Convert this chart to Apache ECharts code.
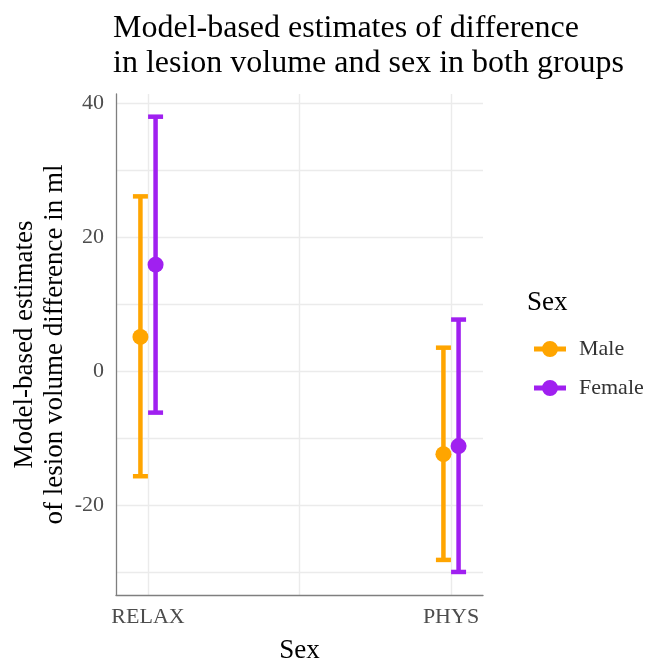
<!DOCTYPE html>
<html>
<head>
<meta charset="utf-8">
<script src="https://cdn.jsdelivr.net/npm/echarts@6/dist/echarts.min.js"></script>
<style>html,body{margin:0;padding:0;background:#fff}#c{width:656px;height:659px}</style>
</head>
<body>
<div id="c"></div>
<script>
const groups = ['RELAX', 'PHYS'];
const sexes = ['Male', 'Female'];
const estMale = [5.1, -12.4];
const lowMale = [-15.7, -28.2];
const highMale = [26.1, 3.5];
const estFemale = [15.9, -11.2];
const lowFemale = [-6.2, -30.0];
const highFemale = [38.0, 7.7];
const yTickLabels = [-20, 0, 20, 40];
const yGrid = [-30, -20, -10, 0, 10, 20, 30, 40];

const colors = { Male: '#FFA500', Female: '#A020F0' };
const dodge = { Male: -0.025, Female: 0.025 };
const FONT = 'Liberation Serif';

const est = { Male: estMale, Female: estFemale };
const low = { Male: lowMale, Female: lowFemale };
const high = { Male: highMale, Female: highFemale };

function errRender(color) {
  return function (params, api) {
    const x = api.value(0);
    const lo = api.coord([x, api.value(1)]);
    const hi = api.coord([x, api.value(2)]);
    const hw = 7.5;
    const st = { stroke: color, lineWidth: 4.5 };
    return {
      type: 'group',
      children: [
        { type: 'line', shape: { x1: lo[0], y1: lo[1], x2: hi[0], y2: hi[1] }, style: st },
        { type: 'line', shape: { x1: lo[0] - hw, y1: lo[1], x2: lo[0] + hw, y2: lo[1] }, style: st },
        { type: 'line', shape: { x1: hi[0] - hw, y1: hi[1], x2: hi[0] + hw, y2: hi[1] }, style: st }
      ]
    };
  };
}

const series = [];
sexes.forEach(s => {
  series.push({
    name: s,
    type: 'custom',
    renderItem: errRender(colors[s]),
    data: groups.map((g, i) => [i + 1 + dodge[s], low[s][i], high[s][i]]),
    z: 2
  });
});
sexes.forEach(s => {
  series.push({
    name: s,
    type: 'scatter',
    symbol: 'circle',
    symbolSize: 16,
    itemStyle: { color: colors[s], opacity: 1 },
    data: groups.map((g, i) => [i + 1 + dodge[s], est[s][i]]),
    z: 3
  });
});

const iconPath = 'path://M0,5.5L32,5.5L32,10.5L0,10.5Z M16,0A8,8,0,1,1,16,16A8,8,0,1,1,16,0Z';

const chart = echarts.init(document.getElementById('c'), null, { renderer: 'canvas' });
chart.setOption({
  backgroundColor: '#ffffff',
  animation: false,
  textStyle: { fontFamily: FONT },
  title: [
    {
      text: 'Model-based estimates of difference\nin lesion volume and sex in both groups',
      left: 108, top: 6,
      textStyle: { fontFamily: FONT, fontSize: 32, fontWeight: 'normal', color: '#000', lineHeight: 35 }
    },
    {
      text: 'Sex',
      left: 522, top: 284,
      textStyle: { fontFamily: FONT, fontSize: 27, fontWeight: 'normal', color: '#000' }
    }
  ],
  legend: {
    orient: 'vertical',
    left: 529, top: 333,
    itemWidth: 32, itemHeight: 16,
    itemGap: 17,
    data: sexes.map(s => ({ name: s, icon: iconPath, itemStyle: { color: colors[s] } })),
    textStyle: { fontFamily: FONT, fontSize: 22, color: '#333', padding: [0, 0, 0, 8], lineHeight: 22 }
  },
  grid: { left: 116, right: 173, top: 94, bottom: 64, containLabel: false, outerBoundsMode: 'none' },
  xAxis: {
    type: 'value',
    min: 0.8944, max: 2.1056,
    name: 'Sex',
    nameLocation: 'middle',
    nameGap: 42,
    nameMoveOverlap: false,
    nameTextStyle: { fontFamily: FONT, fontSize: 27, color: '#000' },
    axisLine: { show: true, onZero: false, lineStyle: { color: '#7F7F7F', width: 1.3 } },
    axisTick: { show: false, customValues: [1, 1.5, 2] },
    axisLabel: {
      customValues: [1, 2],
      formatter: v => groups[Math.round(v) - 1] || '',
      fontFamily: FONT, fontSize: 22, color: '#4D4D4D', margin: 11
    },
    splitLine: { show: true, lineStyle: { color: '#EBEBEB', width: 1.4 } }
  },
  yAxis: {
    type: 'value',
    min: -33.44, max: 41.39,
    name: 'Model-based estimates\nof lesion volume difference in ml',
    nameLocation: 'middle',
    nameGap: 46,
    nameMoveOverlap: false,
    nameRotate: 90,
    nameTextStyle: { fontFamily: FONT, fontSize: 27, color: '#000', lineHeight: 30 },
    axisLine: { show: true, onZero: false, lineStyle: { color: '#7F7F7F', width: 1.3 } },
    axisTick: { show: false, customValues: yGrid },
    axisLabel: {
      customValues: yTickLabels,
      fontFamily: FONT, fontSize: 22, color: '#4D4D4D', margin: 12
    },
    splitLine: { show: true, lineStyle: { color: '#EBEBEB', width: 1.4 } }
  },
  series: series
});
</script>
</body>
</html>
